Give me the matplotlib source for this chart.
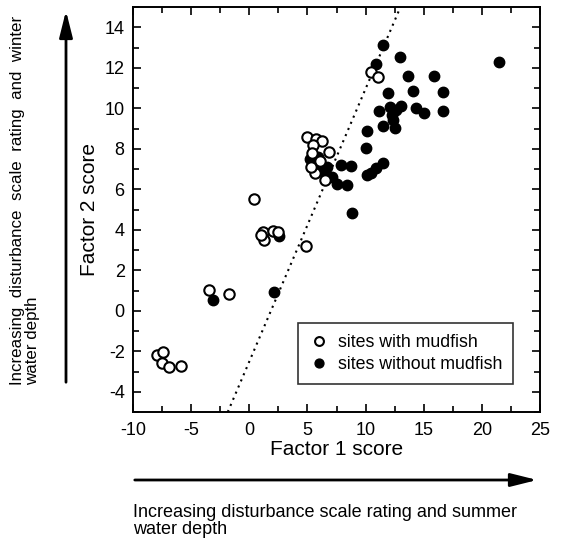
import matplotlib
matplotlib.use("Agg")
import matplotlib.pyplot as plt
from matplotlib.patches import FancyArrowPatch
from matplotlib.ticker import MultipleLocator

plt.rcParams['font.family'] = ['Liberation Sans', 'DejaVu Sans']
plt.rcParams['axes.unicode_minus'] = False

# Sites with mudfish (open circles)
with_x = [10.44, 11.04, 4.99, 5.74, 6.22, 5.5, 6.88, 5.36, 5.65, 6.51, 6.1, 5.3,
          0.40, 1.2, 1.26, 2.0, 2.49, 0.98, 4.84, -3.44, -1.73,
          -7.9, -7.4, -7.53, -6.88, -5.9]
with_y = [11.77, 11.53, 8.57, 8.48, 8.4, 8.2, 7.85, 7.78, 6.79, 6.46, 7.4, 7.1,
          5.52, 3.9, 3.49, 3.95, 3.9, 3.74, 3.2, 1.02, 0.81,
          -2.19, -2.02, -2.6, -2.76, -2.71]

# Sites without mudfish (filled circles)
without_x = [11.47, 12.96, 21.47, 10.87, 13.65, 15.9, 11.95, 14.04, 16.68, 11.18,
             12.1, 13.04, 12.24, 12.38, 14.3, 15.05, 16.7, 11.47, 12.53, 10.09,
             10.03, 11.5, 10.93, 10.5, 10.09, 7.88, 8.71, 7.5, 8.37, 8.8,
             2.12, -3.1, 5.2, 5.65, 6.65, 7.08, 6.0, 5.9, 6.3, 2.55, 12.6]
without_y = [13.12, 12.52, 12.28, 12.19, 11.58, 11.58, 10.74, 10.85, 10.82, 9.86,
             10.08, 10.13, 9.67, 9.42, 10.03, 9.75, 9.86, 9.14, 9.04, 8.89,
             8.02, 7.31, 7.03, 6.82, 6.70, 7.2, 7.15, 6.26, 6.21, 4.84,
             0.91, 0.53, 7.5, 7.3, 7.1, 6.6, 7.0, 7.6, 6.9, 3.7, 9.9]

# Discriminating line (dotted)
line_x = [-1.85, 13.0]
line_y = [-5.0, 15.0]

xlim = (-10, 25)
ylim = (-5, 15)

fig = plt.figure(figsize=(5.62, 5.44), dpi=100)
ax = fig.add_axes([133/562, 1-412/544, 407/562, 405/544])

ax.plot(line_x, line_y, linestyle=(0, (1, 2.2)), color='black', linewidth=1.5, zorder=1)
ax.plot(without_x, without_y, linestyle='none', marker='o', markersize=7.5,
        markerfacecolor='black', markeredgecolor='black', label='sites without mudfish', zorder=2)
ax.plot(with_x, with_y, linestyle='none', marker='o', markersize=7.5,
        markerfacecolor='white', markeredgecolor='black', markeredgewidth=1.5,
        label='sites with mudfish', zorder=3)

ax.set_xlim(*xlim)
ax.set_ylim(*ylim)
ax.xaxis.set_major_locator(MultipleLocator(5))
ax.xaxis.set_minor_locator(MultipleLocator(2.5))
ax.yaxis.set_major_locator(MultipleLocator(2))
ax.yaxis.set_minor_locator(MultipleLocator(1))
ax.tick_params(which='both', direction='in', top=True, right=True, labelsize=13, width=1.2)
ax.tick_params(which='major', length=6)
ax.tick_params(which='minor', length=4)
ax.tick_params(axis='x', pad=7)
ax.tick_params(axis='y', pad=6)
for s in ax.spines.values():
    s.set_linewidth(1.4)

ax.set_xlabel('Factor 1 score', fontsize=15, labelpad=1)
ax.set_ylabel('Factor 2 score', fontsize=15, labelpad=4)

handles, labels = ax.get_legend_handles_labels()
leg = ax.legend(handles[::-1], labels[::-1], loc='center',
                bbox_to_anchor=(0.398, 0.0667, 0.543, 0.154), fontsize=12.8,
                frameon=True, fancybox=False, edgecolor='black', handletextpad=0.5,
                handlelength=1.2, borderpad=0.6, labelspacing=0.3, markerscale=0.85)
leg.get_frame().set_linewidth(1.2)

# Arrows outside the axes (figure pixel coordinates)
arr_v = FancyArrowPatch((66, 544-385), (66, 544-8), transform=None,
                        arrowstyle='-|>,head_length=1.0,head_width=0.25',
                        mutation_scale=16, color='black', linewidth=2)
fig.add_artist(arr_v)
arr_h = FancyArrowPatch((132, 544-480), (540, 544-480), transform=None,
                        arrowstyle='-|>,head_length=1.0,head_width=0.25',
                        mutation_scale=16, color='black', linewidth=2)
fig.add_artist(arr_h)

fig.text(10/562, 1-385/544, 'Increasing  disturbance  scale  rating  and  winter\nwater depth',
         rotation=90, fontsize=12.2, ha='left', va='bottom', linespacing=1.0)
fig.text(133/562, 1-538/544, 'Increasing disturbance scale rating and summer\nwater depth',
         fontsize=13, ha='left', va='bottom', linespacing=1.0)

fig.savefig('out.png', dpi=100)
